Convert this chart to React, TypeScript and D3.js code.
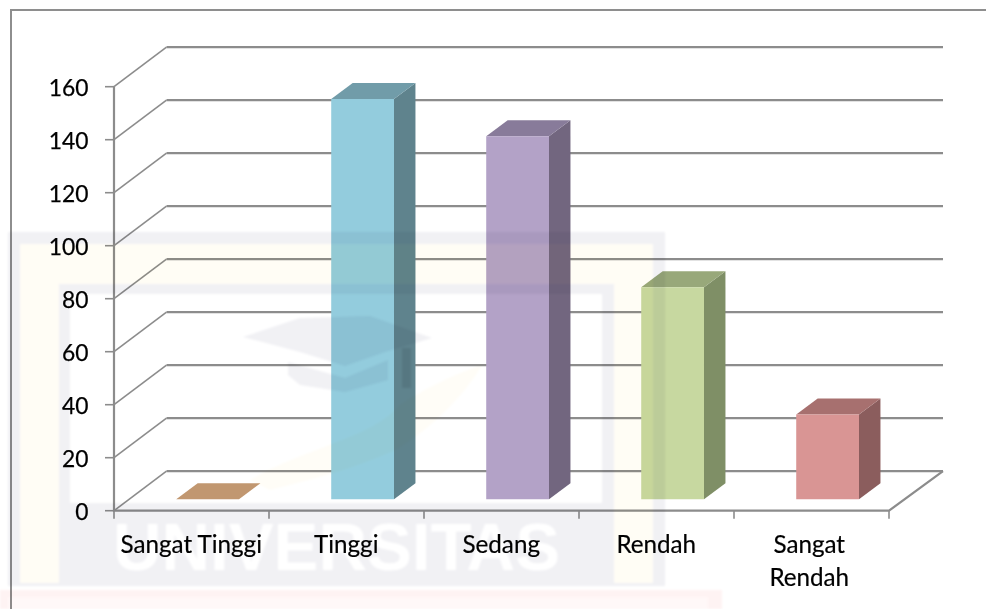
import React from "react";
import * as d3 from "d3";

const categories = ["Sangat Tinggi", "Tinggi", "Sedang", "Rendah", "Sangat Rendah"];
const values = [0, 151, 137, 80, 32];
const yTicks = [0, 20, 40, 60, 80, 100, 120, 140, 160];
const categoryLines = [["Sangat Tinggi"], ["Tinggi"], ["Sedang"], ["Rendah"], ["Sangat", "Rendah"]];
const frontColors = ["#c19770", "#93ccdd", "#b3a2c7", "#c7d8a0", "#d99594"];
const topColors = ["#c19770", "#719ca9", "#887b9a", "#98a87a", "#a7706f"];
const sideColors = ["#8f7052", "#5f838d", "#72667f", "#7f8f66", "#8b5d5d"];

const WIDTH = 986;
const HEIGHT = 609;
const FONT = "Lato, 'Open Sans', sans-serif";
const GRID = "#8c8c8c";

// Oblique projection: depth 0 is the front of the floor, depth 1 the back wall.
const DEPTH_X = 53;
const DEPTH_Y = -39.5;
const BAR_DEPTH_START = 0.29;
const BAR_DEPTH_END = 0.695;

const x = d3
  .scaleBand<string>()
  .domain(categories)
  .range([114, 889])
  .paddingInner(0.595)
  .paddingOuter(0.2975)
  .align(0.508);
const y = d3.scaleLinear().domain([0, 160]).range([510.7, 86.7]);
const project = (px: number, py: number, depth: number): [number, number] => [px + DEPTH_X * depth, py + DEPTH_Y * depth];
const polygon = d3.line();

function Bar({ index }: { index: number }) {
  const name = categories[index];
  const x0 = x(name) as number;
  const x1 = x0 + x.bandwidth();
  const yBase = y(0);
  const yTop = y(values[index]);
  const a = BAR_DEPTH_START;
  const b = BAR_DEPTH_END;
  const top = [project(x0, yTop, a), project(x1, yTop, a), project(x1, yTop, b), project(x0, yTop, b)];
  const side = [project(x1, yBase, a), project(x1, yTop, a), project(x1, yTop, b), project(x1, yBase, b)];
  const front = [project(x0, yBase, a), project(x1, yBase, a), project(x1, yTop, a), project(x0, yTop, a)];
  return (
    <g>
      {values[index] > 0 && <path d={polygon(side) + "Z"} fill={sideColors[index]} />}
      <path d={polygon(top) + "Z"} fill={topColors[index]} />
      {values[index] > 0 && <path d={polygon(front) + "Z"} fill={frontColors[index]} />}
    </g>
  );
}

// Faint institutional stamp laid across the whole page.
function Stamp() {
  const gray = "#f1f1f4";
  const cream = "#fffdf5";
  return (
    <g style={{ mixBlendMode: "multiply" }} filter="url(#soft)">
      <rect x={8} y={232} width={657} height={354} fill={gray} />
      <rect x={20} y={244} width={633} height={339} fill={cream} />
      <rect x={59} y={284} width={555} height={300} fill={gray} />
      <rect x={70} y={294} width={532} height={209} fill="#ffffff" />
      <rect x={59} y={503} width={555} height={81} fill={gray} />
      <text x={113} y={570} fontFamily="'Liberation Sans', sans-serif" fontWeight={700} fontSize={66} fill="#ffffff" textLength={447} lengthAdjust="spacingAndGlyphs">
        UNIVERSITAS
      </text>
      <path d="M243,337 L300,318 L370,316 L432,338 L385,352 L345,366 L300,352Z" fill={gray} />
      <path d="M288,362 L345,378 L388,360 L388,380 L345,392 L300,385 L288,375Z" fill={gray} />
      <rect x={402} y={348} width={9} height={40} fill="#e6e7ea" />
      <path d="M250,480 C310,445 370,440 400,405 C430,385 460,372 482,365 C465,395 430,430 395,450 C350,470 310,480 270,490Z" fill="#fffdf7" />
      <rect x={0} y={590} width={722} height={19} fill="#fef3f3" />
      <rect x={8} y={597} width={700} height={12} fill="#fff8f8" />
    </g>
  );
}

export default function App() {
  const floorY = y(0);
  const backLeft = DEPTH_X - 0.5;
  const rightBack = 943;
  return (
    <svg width={WIDTH} height={HEIGHT} viewBox={`0 0 ${WIDTH} ${HEIGHT}`} style={{ position: "absolute", left: 0, top: 0, display: "block", background: "#fff" }}>
      <defs>
        <filter id="soft" x="-5%" y="-5%" width="110%" height="110%">
          <feGaussianBlur stdDeviation={1} />
        </filter>
      </defs>

      {/* chart area border, running off the right and bottom of the page */}
      <path d={`M11,${HEIGHT + 2} V10 H${WIDTH + 2}`} fill="none" stroke="#8e8e8e" strokeWidth={2} />

      {/* value gridlines along the side wall and back wall */}
      {yTicks.map((t) => (
        <g key={t} fill="none" stroke={GRID}>
          <line x1={114} x2={114 + backLeft} y1={y(t)} y2={y(t) + DEPTH_Y} strokeWidth={1.6} />
          <line x1={114 + backLeft} x2={rightBack} y1={y(t) + DEPTH_Y} y2={y(t) + DEPTH_Y} strokeWidth={2.2} />
          <line x1={105} x2={114} y1={y(t)} y2={y(t)} strokeWidth={1.6} />
        </g>
      ))}

      {/* floor outline and axes */}
      <path d={`M${rightBack},${floorY + DEPTH_Y} L889,${floorY} H114 V${y(160)}`} fill="none" stroke={GRID} strokeWidth={2.2} />
      {d3.range(categories.length + 1).map((i) => {
        const tx = 114 + (i * 775) / categories.length;
        return <line key={i} x1={tx} x2={tx} y1={floorY} y2={floorY + 8} stroke={GRID} strokeWidth={1.6} />;
      })}

      {categories.map((c, i) => (
        <Bar key={c} index={i} />
      ))}

      {yTicks.map((t) => (
        <text key={t} x={88.5} y={y(t) + 9} textAnchor="end" fontFamily={FONT} fontSize={22.8} fill="#000" stroke="#000" strokeWidth={0.25}>
          {t}
        </text>
      ))}

      {categoryLines.map((lines, i) => {
        // wrapped labels sit slightly left of the band centre
        const cx = (x(categories[i]) as number) + x.bandwidth() / 2 - (lines.length > 1 ? 3 : 1);
        return (
          <text key={categories[i]} textAnchor="middle" fontFamily={FONT} fontSize={24.2} fill="#000" stroke="#000" strokeWidth={0.2}>
            {lines.map((line, j) => (
              <tspan key={line} x={cx} y={553 + j * 32.6}>
                {line}
              </tspan>
            ))}
          </text>
        );
      })}

      <Stamp />
    </svg>
  );
}
